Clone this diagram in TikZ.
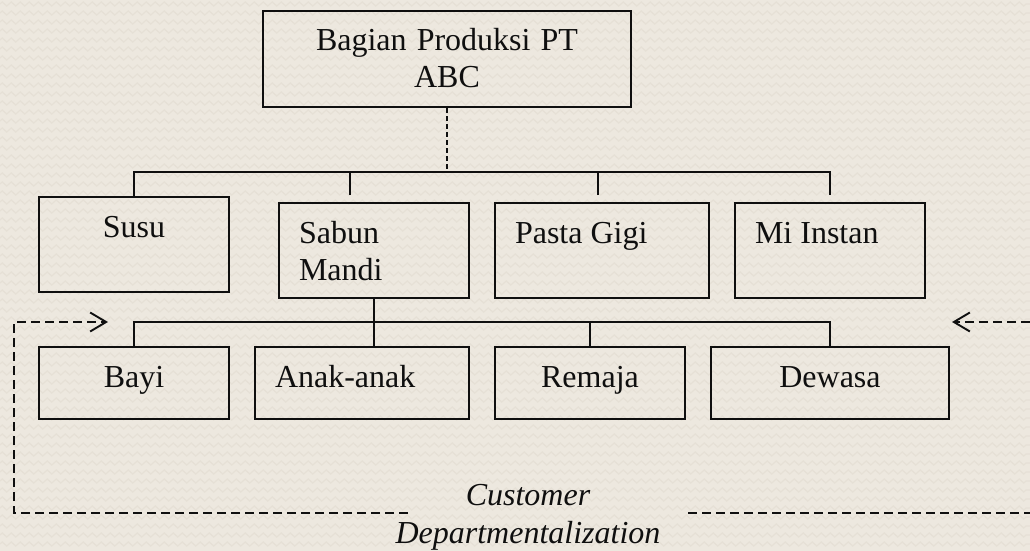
\documentclass[tikz,border=0pt]{standalone}
\usepackage{fontspec}
\setmainfont{Liberation Serif}
\usepackage{tikz}
\usetikzlibrary{arrows.meta, positioning, decorations.pathmorphing}
\definecolor{paper}{RGB}{237,232,223}
\definecolor{paperline}{RGB}{230,224,214}
\definecolor{ink}{RGB}{15,15,15}
\tikzset{box/.style = {
  % Rectangle:
  rectangle, draw=ink, line width=2pt,
  inner xsep=20pt, inner ysep=0pt,
  anchor=north west,
  % Text
  text=ink, font=\fontsize{32}{37}\selectfont,
  execute at begin node={\spaceskip=0pt\relax},
  text height=40pt
  }}
\tikzset{upper/.style = {box, text depth=55pt}}
\tikzset{lower/.style = {box, text depth=32pt}}
\tikzset{link/.style = {draw=ink, line width=1.6pt}}
\tikzset{loopline/.style = {
  draw=ink, line width=1.9pt,
  dash pattern=on 9pt off 5pt,
  -{Straight Barb[length=16pt,width=19pt]}
  }}

\begin{document}
\begin{tikzpicture}[x=1pt, y=-1pt, node distance=24pt]
% BACKGROUND
\useasboundingbox[fill=paper] (0,0) rectangle (1030,551);
\foreach \yy in {4,13,...,551}
  \draw[paperline, line width=1.2pt, decorate,
        decoration={zigzag, segment length=9pt, amplitude=2pt}] (0,\yy) -- (1030,\yy);

% NODES
\node (pabrik) [box, text width=328pt, align=center, text depth=56pt] at (262,10)
  {Bagian Produksi PT\\ABC};

\node (susu) [upper, text width=150pt, align=center] at (38,196) {Susu};
\node (sabun) [upper, text width=150pt, align=left] at (278,202) {Sabun\\Mandi};
\node (pasta) [upper, text width=174pt, align=left, right=of sabun] {Pasta Gigi};
\node (mi) [upper, text width=150pt, align=left, right=of pasta] {Mi Instan};

\node (bayi) [lower, text width=150pt, align=center] at (38,346) {Bayi};
\node (anak) [lower, text width=174pt, align=left, right=of bayi] {Anak-anak};
\node (remaja) [lower, text width=150pt, align=center, right=of anak] {Remaja};
\node (dewasa) [lower, text width=198pt, align=center, right=of remaja] {Dewasa};

\node (segmen) [text=ink, font=\fontsize{32}{38}\selectfont\itshape,
  text width=330pt, align=center, anchor=base] at (528,505)
  {Customer\\Departmentalization};

% coordinates
\coordinate (bar1) at (pabrik.south |- 0,172);
\coordinate (sabunin) at (350,195);
\coordinate (pastain) at (598,195);
\coordinate (miin) at (mi.north |- 0,195);
\coordinate (bar2) at (sabun.south |- 0,322);
\coordinate (kiri) at (14,513);
\coordinate (panahkiri) at (108,322);
\coordinate (kanan) at (1030,513);
\coordinate (panahkanan) at (952,322);

% arrows
\draw [link, dash pattern=on 5pt off 3pt] (pabrik.south) -- (bar1);
\draw [link] (susu.north) |- (bar1) -| (miin);
\draw [link] (sabunin) -- (sabunin |- bar1);
\draw [link] (pastain) -- (pastain |- bar1);

\draw [link] (sabun.south) -- (sabun.south |- anak.north);
\draw [link] (bayi.north) |- (bar2) -| (dewasa.north);
\draw [link] (remaja.north) -- (remaja.north |- bar2);

\draw [loopline] (408,513) -- (kiri) -- (kiri |- panahkiri) -- (panahkiri);
\draw [loopline, -] (688,513) -- (kanan);
\draw [loopline] (kanan |- panahkanan) -- (panahkanan);
\end{tikzpicture}
\end{document}
